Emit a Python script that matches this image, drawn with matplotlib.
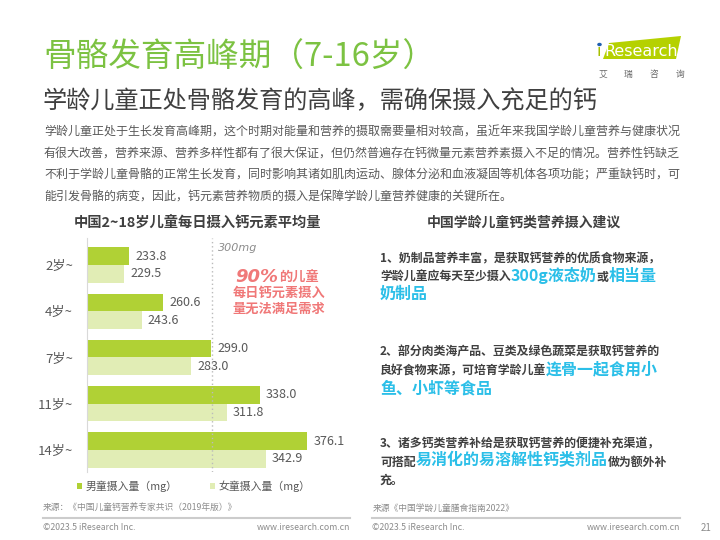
import matplotlib
matplotlib.use('Agg')
import matplotlib.pyplot as plt
from matplotlib.patches import Polygon, Circle
from matplotlib.lines import Line2D
import numpy as np

plt.rcParams['font.family'] = ['Noto Sans CJK SC', 'DejaVu Sans']

## data
ages = ['2岁~', '4岁~', '7岁~', '11岁~', '14岁~']
boys = [233.8, 260.6, 299.0, 338.0, 376.1]
girls = [229.5, 243.6, 283.0, 311.8, 342.9]
boy_label = '男童摄入量（mg）'
girl_label = '女童摄入量（mg）'
need = 300

title = '骨骼发育高峰期（7-16岁）'
subtitle = '学龄儿童正处骨骼发育的高峰，需确保摄入充足的钙'
body = ['学龄儿童正处于生长发育高峰期，这个时期对能量和营养的摄取需要量相对较高，虽近年来我国学龄儿童营养与健康状况',
        '有很大改善，营养来源、营养多样性都有了很大保证，但仍然普遍存在钙微量元素营养素摄入不足的情况。营养性钙缺乏',
        '不利于学龄儿童骨骼的正常生长发育，同时影响其诸如肌肉运动、腺体分泌和血液凝固等机体各项功能；严重缺钙时，可',
        '能引发骨骼的病变，因此，钙元素营养物质的摄入是保障学龄儿童营养健康的关键所在。']

# right side advice, (text, highlighted?)
advice = [
    [[('1、奶制品营养丰富，是获取钙营养的优质食物来源，', 0)],
     [('学龄儿童应每天至少摄入', 0), ('300g液态奶', 1), ('或', 0), ('相当量', 1)],
     [('奶制品', 1)]],
    [[('2、部分肉类海产品、豆类及绿色蔬菜是获取钙营养的', 0)],
     [('良好食物来源，可培育学龄儿童', 0), ('连骨一起食用小', 1)],
     [('鱼、小虾等食品', 1)]],
    [[('3、诸多钙类营养补给是获取钙营养的便捷补充渠道，', 0)],
     [('可搭配', 0), ('易消化的易溶解性钙类剂品', 1), ('做为额外补', 0)],
     [('充。', 0)]],
]

W, H = 720, 540
GREEN = '#7cc242'
BOY_C = '#b0d135'
GIRL_C = '#e1edb5'
DARK = '#404040'
GRAY = '#595959'
BLUE = '#2bbfe8'
PINK = '#f07878'


def px(x, y):
    return x / W, 1 - y / H


fig = plt.figure(figsize=(7.2, 5.4), dpi=100)
fig.patch.set_facecolor('white')

## header
fig.text(*px(43, 58), title, fontsize=23.5, color=GREEN, va='center', weight='light')
fig.text(*px(43, 101), subtitle, fontsize=17.4, color=DARK, va='center')
for i, line in enumerate(body):
    fig.text(*px(44, 132 + i * 21.3), line, fontsize=8.65, color=GRAY, va='center')

# logo
logo = Polygon([px(609, 43), px(681, 36), px(676, 59), px(603, 59)], closed=True,
               transform=fig.transFigure, facecolor='#b5d100', edgecolor='none')
fig.patches.append(logo)
fig.text(*px(597, 52), 'ı', fontsize=11.5, color='#a6bf00', va='center', family='DejaVu Sans')
fig.patches.append(Circle(px(599.5, 44.5), 0.0032, transform=fig.transFigure,
                          facecolor='#1f5fb0', edgecolor='none'))
fig.text(*px(604, 52), 'Research', fontsize=11.5, color='white', va='center', family='DejaVu Sans')
for k, ch in enumerate('艾瑞咨询'):
    fig.text(*px(603 + k * 25.5, 74), ch, fontsize=6.3, color='#666666', va='center', ha='center')

## left chart
fig.text(*px(197, 223), '中国2~18岁儿童每日摄入钙元素平均量', fontsize=10.3, weight='bold',
         color=DARK, ha='center', va='center')

ax = fig.add_axes([87 / W, 1 - 472 / H, 250 / W, (472 - 238) / H])
y = np.arange(len(ages))
h = 0.383
ax.barh(y - h / 2, boys, height=h, color=BOY_C, label=boy_label)
ax.barh(y + h / 2, girls, height=h, color=GIRL_C, label=girl_label)
for yi, b, g in zip(y, boys, girls):
    ax.text(b + 5, yi - h / 2, f'{b:.1f}', va='center', fontsize=9, color=GRAY)
    ax.text(g + 5, yi + h / 2, f'{g:.1f}', va='center', fontsize=9, color=GRAY)
ax.set_xlim(200, 400)
ax.set_ylim(4.476, -0.584)
ax.axvline(need, color='#bbbbbb', ls=(0, (1, 2)), lw=1)
ax.text(need + 5, -0.36, f'{need}mg', fontsize=8, style='italic', color='#8c8c8c', va='center',
        family='DejaVu Sans')
ax.set_yticks(y)
ax.set_yticklabels(ages, fontsize=9.5, color=GRAY)
ax.tick_params(axis='y', length=0, pad=10)
ax.set_xticks([])
for s in ['top', 'right', 'bottom']:
    ax.spines[s].set_visible(False)
ax.spines['left'].set_color('#d9d9d9')

# pink note
fig.text(*px(278, 277), '90%', fontsize=13, weight='bold', style='italic', color=PINK,
         ha='right', va='center', family='DejaVu Sans')
fig.text(*px(279, 278), '的儿童', fontsize=9.5, weight='bold', color=PINK,
         ha='left', va='center')
fig.text(*px(279, 293), '每日钙元素摄入', fontsize=9.5, weight='bold', color=PINK,
         ha='center', va='center')
fig.text(*px(279, 309), '量无法满足需求', fontsize=9.5, weight='bold', color=PINK,
         ha='center', va='center')

leg = fig.legend(loc='center left', bbox_to_anchor=px(67, 486), ncol=2, frameon=False,
                 fontsize=7.8, handlelength=0.5, handleheight=0.5, handletextpad=0.3,
                 columnspacing=3.0, labelcolor=GRAY)

## right panel
fig.text(*px(524, 223), '中国学龄儿童钙类营养摄入建议', fontsize=10, weight='bold',
         color=DARK, ha='center', va='center')

renderer = fig.canvas.get_renderer()
block_top = [262, 356, 447]
for top, block in zip(block_top, advice):
    for li, line in enumerate(block):
        xx = 380
        yy = top + li * 18.5
        for txt, hl in line:
            t = fig.text(*px(xx, yy), txt, fontsize=11.5 if hl else 8.6, weight='bold',
                         color=BLUE if hl else DARK, va='baseline')
            xx += t.get_window_extent(renderer).width

## sources and footer
fig.text(*px(43, 507), '来源：《中国儿童钙营养专家共识（2019年版）》', fontsize=6.3, color='#8c8c8c', va='center')
fig.text(*px(373, 508), '来源《中国学龄儿童膳食指南2022》', fontsize=6.3, color='#8c8c8c', va='center')
for x0, x1 in [(43, 350), (372, 680)]:
    fig.add_artist(Line2D([x0 / W, x1 / W], [1 - 518 / H] * 2, color='#cccccc', lw=1.5,
                          transform=fig.transFigure))
for x0, x1 in [(43, 350), (372, 680)]:
    fig.text(*px(x0, 528), '©2023.5 iResearch Inc.', fontsize=6.3, color='#8c8c8c', va='center')
    fig.text(*px(x1, 528), 'www.iresearch.com.cn', fontsize=6.3, color='#8c8c8c', va='center', ha='right')
fig.text(*px(706, 528), '21', fontsize=7, color='#8c8c8c', va='center', ha='center')

fig.savefig('out.png', dpi=100)
